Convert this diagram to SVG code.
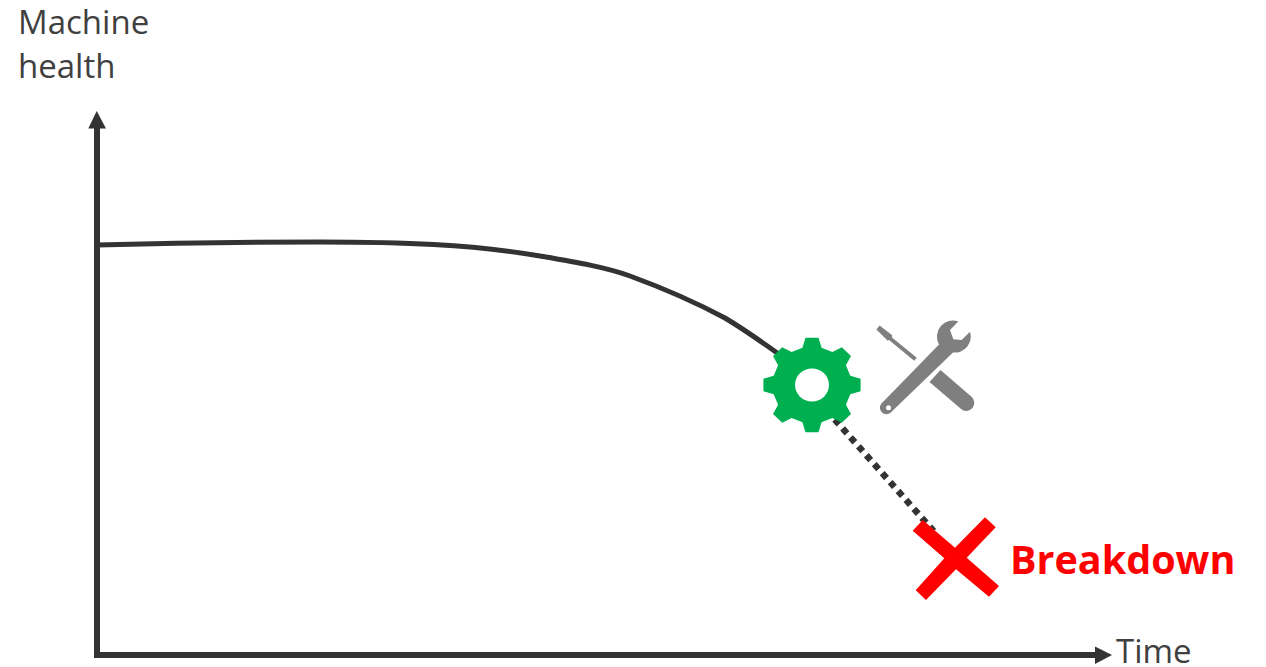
<svg xmlns="http://www.w3.org/2000/svg" width="1266" height="667" viewBox="0 0 1266 667">
  <style>
    .axis { fill: none; stroke: #333333; stroke-width: 6; }
    .head { fill: #333333; }
    .curve { fill: none; stroke: #333333; stroke-width: 5; }
    .dots { fill: none; stroke: #333333; stroke-width: 6.5; stroke-dasharray: 6.5 5.44; }
    .tool { fill: #7f7f7f; }
    .label { font-family: "Open Sans", "Liberation Sans", sans-serif; font-size: 33px; fill: #404040; }
    .alert { font-family: "Open Sans", "Liberation Sans", sans-serif; font-size: 39.5px; font-weight: 700; fill: #ff0000; }
  </style>
  <rect width="1266" height="667" fill="#ffffff"/>
  <g id="connectors">
    <path class="axis" d="M97 126V655"/>
    <path class="axis" d="M94 655H1097"/>
    <path class="head" d="M96.700 111L106 128.500H88.300Z"/>
    <path class="head" d="M1112 655L1095 646.500V664Z"/>
    <path id="health-curve" class="curve" d="M97 245C170 243 260 242 320 242C400 242 470 244 540 256C575 262 605 267 630 276C660 287 695 302 725 318C745 330 762 342 780 355"/>
    <path id="failure-path" class="dots" d="M834.700 419.500L933.700 531.200"/>
  </g>
  <g id="gear">
    <path fill="#00b050" fill-rule="evenodd" transform="translate(812 385) scale(1 0.97)" d="M-9.600 -38.300L-6.500 -48.600L6.500 -48.600L9.600 -38.300L20.300 -33.900L29.800 -39L39 -29.800L33.900 -20.300L38.300 -9.600L48.600 -6.500L48.600 6.500L38.300 9.600L33.900 20.300L39 29.800L29.800 39L20.300 33.900L9.600 38.300L6.500 48.600L-6.500 48.600L-9.600 38.300L-20.300 33.900L-29.800 39L-39 29.800L-33.900 20.300L-38.300 9.600L-48.600 6.500L-48.600 -6.500L-38.300 -9.600L-33.900 -20.300L-39 -29.800L-29.800 -39L-20.300 -33.900ZM17 0A17 17 0 1 0 -17 0A17 17 0 1 0 17 0Z"/>
  </g>
  <g id="tools">
    <path class="tool" d="M879.600 325.600L892.200 335.300L892 337.500L916.800 357.800L914.200 360.800L889 340L887.800 340.700L876.400 329.400Z"/>
    <path class="tool" d="M940.500 370L971.500 396.800A8 8 0 0 1 961.100 409L929.500 382Z"/>
    <path class="tool" fill-rule="evenodd" d="M958.300 321.500L950 330L953.300 339.300L961.700 340L970 331.700A16 16 0 0 1 953 352.500L890.500 412.800A6.500 6.500 0 0 1 881.500 403.500L939 344.500A16 16 0 0 1 958.300 321.500ZM891 407.700A2.500 2.500 0 1 0 886 407.700A2.500 2.500 0 1 0 891 407.700Z"/>
  </g>
  <g id="breakdown">
    <path fill="#ff0000" d="M985 517.300L995.700 527.300L966.700 557.700L999 586L989 596.700L956 569.300L926 600L915.700 590.300L944.300 558.300L912.700 530.700L922.700 520L955 547.700Z"/>
    <text class="alert" x="1010" y="574">Breakdown</text>
  </g>
  <g id="y-axis-label">
    <text class="label" x="18" y="34">Machine</text>
    <text class="label" x="18" y="78">health</text>
  </g>
  <g id="x-axis-label">
    <text class="label" x="1116" y="663">Time</text>
  </g>
</svg>
